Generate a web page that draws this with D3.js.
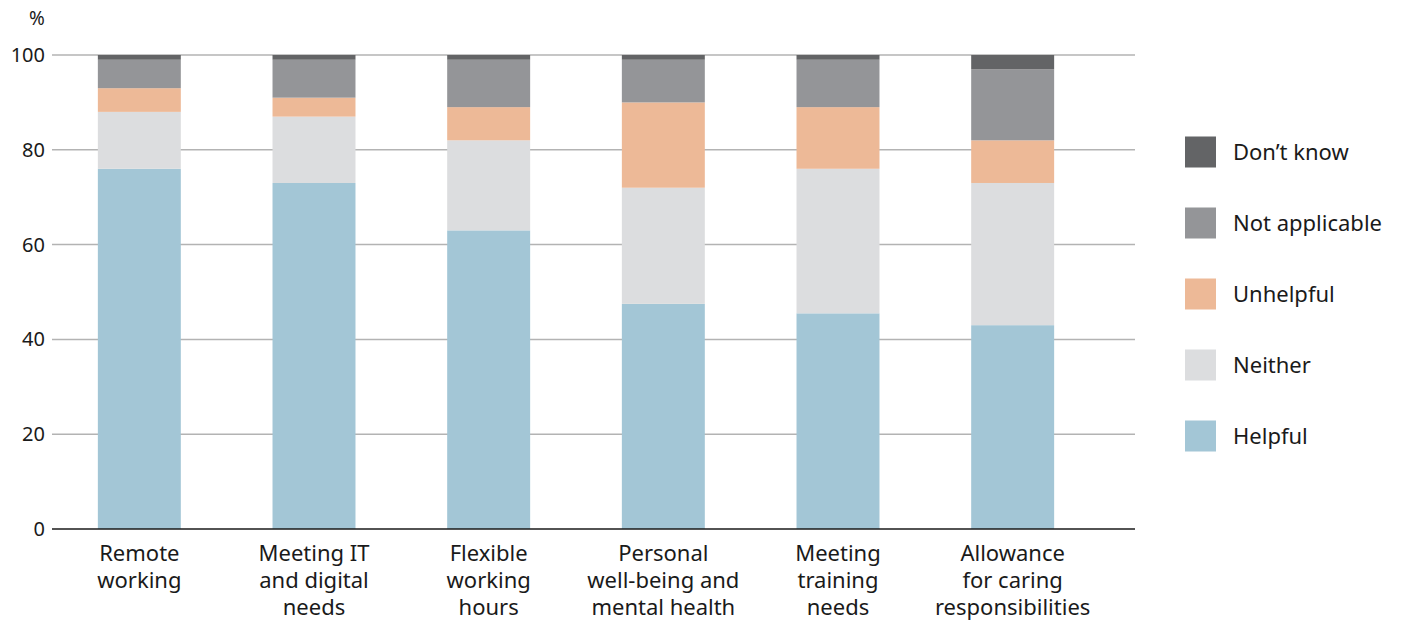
<!DOCTYPE html>
<html>
<head>
<meta charset="utf-8">
<script src="https://cdn.jsdelivr.net/npm/d3@7"></script>
<style>
  body { margin: 0; background: #fff; }
  svg text { font-family: "Noto Sans", Lato, sans-serif; fill: #1a1a1a; }
</style>
</head>
<body>
<svg id="chart" width="1410" height="621"></svg>
<script>
// Categories (each label split into lines)
const categories = [
  ['Remote', 'working'],
  ['Meeting IT', 'and digital', 'needs'],
  ['Flexible', 'working', 'hours'],
  ['Personal', 'well-being and', 'mental health'],
  ['Meeting', 'training', 'needs'],
  ['Allowance', 'for caring', 'responsibilities'],
];
const seriesNames = ['Helpful', 'Neither', 'Unhelpful', 'Not applicable', 'Don\u2019t know'];
const helpful = [76, 73, 63, 47.5, 45.5, 43];
const neither = [12, 14, 19, 24.5, 30.5, 30];
const unhelpful = [5, 4, 7, 18, 13, 9];
const notApplicable = [6, 8, 10, 9, 10, 15];
const dontKnow = [1, 1, 1, 1, 1, 3];
const yTicks = [0, 20, 40, 60, 80, 100];

const colors = ['#a3c6d6', '#dcdddf', '#edb997', '#949598', '#636466'];

const svg = d3.select('#chart');
const marginLeft = 52;
const gridRight = 1135;
const bandRight = 1100;
const plotTop = 55;
const plotBottom = 529;

const x = d3.scaleBand()
  .domain(d3.range(categories.length))
  .range([marginLeft, bandRight])
  .paddingInner(0.525)
  .paddingOuter(0.2625);
const y = d3.scaleLinear().domain([0, 100]).range([plotBottom, plotTop]);

// build table for the stack
const table = categories.map((c, i) => ({
  i,
  Helpful: helpful[i],
  Neither: neither[i],
  Unhelpful: unhelpful[i],
  'Not applicable': notApplicable[i],
  'Don\u2019t know': dontKnow[i],
}));
const stacked = d3.stack().keys(seriesNames)(table);

// gridlines
svg.append('g').selectAll('line')
  .data(yTicks.filter(t => t > 0))
  .join('line')
  .attr('x1', marginLeft).attr('x2', gridRight)
  .attr('y1', d => y(d)).attr('y2', d => y(d))
  .attr('stroke', '#b3b3b3').attr('stroke-width', 1.5);

// y tick labels
svg.append('g').selectAll('text')
  .data(yTicks)
  .join('text')
  .attr('x', 45).attr('y', d => y(d))
  .attr('dy', '0.35em')
  .attr('text-anchor', 'end')
  .attr('font-size', 20)
  .text(d => d);

svg.append('text')
  .attr('x', 37).attr('y', 18)
  .attr('dy', '0.35em')
  .attr('text-anchor', 'middle')
  .attr('font-size', 19)
  .text('%');

// bars
svg.append('g').selectAll('g')
  .data(stacked)
  .join('g')
  .attr('fill', (d, k) => colors[k])
  .selectAll('rect')
  .data(d => d)
  .join('rect')
  .attr('x', d => x(d.data.i))
  .attr('width', x.bandwidth())
  .attr('y', d => y(d[1]))
  .attr('height', d => y(d[0]) - y(d[1]));

// baseline
svg.append('line')
  .attr('x1', marginLeft).attr('x2', gridRight)
  .attr('y1', y(0)).attr('y2', y(0))
  .attr('stroke', '#1a1a1a').attr('stroke-width', 1.5);

// x labels
const xl = svg.append('g').selectAll('text')
  .data(categories)
  .join('text')
  .attr('x', (d, i) => x(i) + x.bandwidth() / 2)
  .attr('y', 553)
  .attr('text-anchor', 'middle')
  .attr('font-size', 22);
xl.selectAll('tspan')
  .data((d, i) => d.map(s => ({ s, i })))
  .join('tspan')
  .attr('x', d => x(d.i) + x.bandwidth() / 2)
  .attr('dy', (d, j) => (j === 0 ? '0.35em' : 27))
  .text(d => d.s);

// legend (top = Don't know)
const legend = svg.append('g').selectAll('g')
  .data(seriesNames.map((s, k) => ({ s, k })).reverse())
  .join('g')
  .attr('transform', (d, j) => `translate(1185,${152 + j * 71})`);
legend.append('rect')
  .attr('x', 0).attr('y', -15.5)
  .attr('width', 31).attr('height', 31)
  .attr('fill', d => colors[d.k]);
legend.append('text')
  .attr('x', 48).attr('y', 0)
  .attr('dy', '0.35em')
  .attr('font-size', 22)
  .text(d => d.s);
</script>
</body>
</html>
